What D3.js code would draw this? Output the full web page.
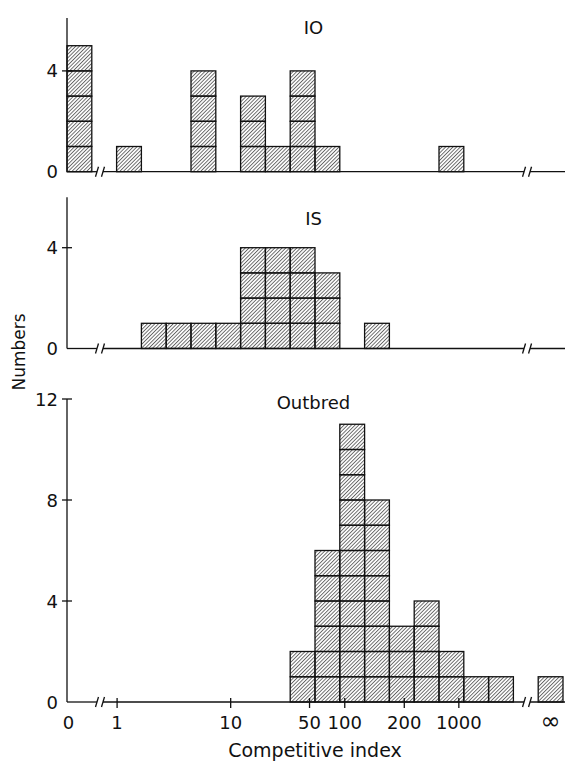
<!DOCTYPE html>
<html>
<head>
<meta charset="utf-8">
<script src="https://cdn.jsdelivr.net/npm/d3@7"></script>
<style>
  html, body { margin: 0; padding: 0; background: #fff; }
  svg { display: block; }
  text { font-family: "DejaVu Sans", sans-serif; fill: #111; }
</style>
</head>
<body>
<div id="chart"></div>
<script>
// bins along the competitive index axis (equal log width, plus 0 and infinity)
var binIndex = d3.range(20);

var ioCounts      = [5, 0, 1, 0, 0, 4, 0, 3, 1, 4, 1, 0, 0, 0, 0, 1, 0, 0, 0, 0];
var isCounts      = [0, 0, 0, 1, 1, 1, 1, 4, 4, 4, 3, 0, 1, 0, 0, 0, 0, 0, 0, 0];
var outbredCounts = [0, 0, 0, 0, 0, 0, 0, 0, 0, 2, 6, 11, 8, 3, 4, 2, 1, 1, 0, 1];

var panelNames = ["IO", "IS", "Outbred"];

// x tick labels and where they sit, in bin units
var xTickLabels = ["0", "1", "10", "50", "100", "200", "1000", "\u221e"];
var xTickBins   = [0, 2.02, 6.6, 9.78, 11.2, 13.6, 15.8, 19.5];

var yTicksSmall = [0, 4];
var yTicksLarge = [0, 4, 8, 12];

var w = 565;
var h = 761;
var unit = 25.2;

var svg = d3.select("#chart")
            .append("svg")
            .attr("width", w)
            .attr("height", h);

// diagonal hatching used for every cell
var defs = svg.append("defs");
defs.append("pattern")
    .attr("id", "hatch")
    .attr("patternUnits", "userSpaceOnUse")
    .attr("width", 2.6)
    .attr("height", 2.6)
    .attr("patternTransform", "rotate(45)")
    .append("line")
    .attr("x1", 0.5).attr("y1", 0)
    .attr("x2", 0.5).attr("y2", 2.6)
    .attr("stroke", "#4a4a4a")
    .attr("stroke-width", 0.8);

var xScale = d3.scaleLinear()
               .domain([0, 20])
               .range([67, 67 + 20 * 24.8]);

var panels = [
  { name: panelNames[0], counts: ioCounts, base: 171.7, top: 6.1, ticks: yTicksSmall, titleY: 33.5 },
  { name: panelNames[1], counts: isCounts, base: 348.5, top: 6.0, ticks: yTicksSmall, titleY: 224.5 },
  { name: panelNames[2], counts: outbredCounts, base: 702, top: 12, ticks: yTicksLarge, titleY: 408.5 }
];

panels.forEach(function(p, pi) {
  var yScale = d3.scaleLinear()
                 .domain([0, p.top])
                 .range([p.base, p.base - p.top * (pi == 2 ? 25.25 : unit)]);

  var g = svg.append("g");

  // one square per counted strain
  var cells = [];
  p.counts.forEach(function(c, i) {
    for (var k = 0; k < c; k++) cells.push({ bin: binIndex[i], level: k });
  });

  g.selectAll("rect.cell")
   .data(cells)
   .enter()
   .append("rect")
   .attr("class", "cell")
   .attr("x", function(d) { return xScale(d.bin); })
   .attr("y", function(d) { return yScale(d.level + 1); })
   .attr("width", function(d) { return xScale(d.bin + 1) - xScale(d.bin); })
   .attr("height", function(d) { return yScale(d.level) - yScale(d.level + 1); })
   .attr("fill", "url(#hatch)")
   .attr("stroke", "#111")
   .attr("stroke-width", 1.3);

  // y axis line
  g.append("line")
   .attr("x1", xScale(0)).attr("x2", xScale(0))
   .attr("y1", yScale(p.top)).attr("y2", yScale(0))
   .attr("stroke", "#111").attr("stroke-width", 1.3);

  // baseline with the two breaks
  var b1 = xScale(1.33), b2 = xScale(18.55);
  var segs = [[xScale(0), b1 - 3], [b1 + 3, b2 - 3], [b2 + 3, w]];
  g.selectAll("line.base")
   .data(segs)
   .enter()
   .append("line")
   .attr("class", "base")
   .attr("x1", function(d) { return d[0]; })
   .attr("x2", function(d) { return d[1]; })
   .attr("y1", yScale(0)).attr("y2", yScale(0))
   .attr("stroke", "#111").attr("stroke-width", 1.3);

  g.selectAll("line.brk")
   .data([b1 - 3, b1 + 3, b2 - 3, b2 + 3])
   .enter()
   .append("line")
   .attr("class", "brk")
   .attr("x1", function(d) { return d - 1.5; })
   .attr("x2", function(d) { return d + 1.5; })
   .attr("y1", yScale(0) + 5).attr("y2", yScale(0) - 5)
   .attr("stroke", "#111").attr("stroke-width", 1.3);

  // y ticks cross the axis
  g.selectAll("line.ytick")
   .data(p.ticks.filter(function(t) { return t > 0; }))
   .enter()
   .append("line")
   .attr("class", "ytick")
   .attr("x1", xScale(0) - 5).attr("x2", xScale(0) + 5)
   .attr("y1", function(d) { return yScale(d); })
   .attr("y2", function(d) { return yScale(d); })
   .attr("stroke", "#111").attr("stroke-width", 1.3);

  g.selectAll("text.ylab")
   .data(p.ticks)
   .enter()
   .append("text")
   .attr("class", "ylab")
   .attr("x", 58)
   .attr("y", function(d) { return yScale(d) + 6.5; })
   .attr("text-anchor", "end")
   .style("font-size", "18px")
   .text(function(d) { return d; });

  g.append("text")
   .attr("x", 313.5)
   .attr("y", p.titleY)
   .attr("text-anchor", "middle")
   .style("font-size", "18px")
   .text(p.name);

  // x ticks only under the bottom panel
  if (pi == 2) {
    g.selectAll("line.xtick")
     .data(xTickBins.slice(1, 7))
     .enter()
     .append("line")
     .attr("class", "xtick")
     .attr("x1", function(d) { return xScale(d); })
     .attr("x2", function(d) { return xScale(d); })
     .attr("y1", yScale(0) - 4).attr("y2", yScale(0) + 6)
     .attr("stroke", "#111").attr("stroke-width", 1.3);

    g.selectAll("text.xlab")
     .data(xTickLabels)
     .enter()
     .append("text")
     .attr("class", "xlab")
     .attr("x", function(d, i) { return xScale(xTickBins[i]) + (i == 0 ? 1.5 : 0); })
     .attr("y", yScale(0) + 27)
     .attr("text-anchor", "middle")
     .style("font-size", function(d) { return d == "\u221e" ? "24px" : "18px"; })
     .text(function(d) { return d; });
  }
});

svg.append("text")
   .attr("x", 315)
   .attr("y", 757)
   .attr("text-anchor", "middle")
   .style("font-size", "19px")
   .text("Competitive index");

svg.append("text")
   .attr("transform", "translate(25,352) rotate(-90)")
   .attr("text-anchor", "middle")
   .style("font-size", "17px")
   .text("Numbers");
</script>
</body>
</html>
